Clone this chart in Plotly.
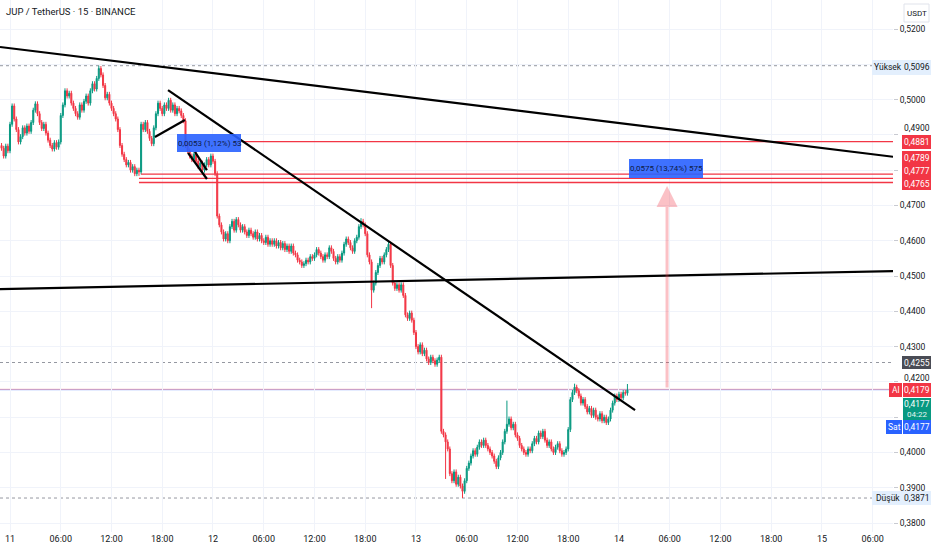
import plotly.graph_objects as go
import pandas as pd

# ---------------- data ----------------
title_text = "JUP / TetherUS · 15 · BINANCE"
start_time = "2025-06-10 23:00"
first_open = 0.4870

closes = [
    0.4862, 0.4840, 0.4868, 0.4855,   # 10 23h
    0.4930, 0.4982, 0.4945, 0.4915,   # 11 00h
    0.4880, 0.4895, 0.4920, 0.4905,
    0.4925, 0.4910, 0.4935, 0.4970,
    0.4988, 0.4960, 0.4935, 0.4918,
    0.4930, 0.4905, 0.4885, 0.4870,
    0.4860, 0.4878, 0.4865, 0.4880,
    0.4955, 0.4985, 0.5025, 0.5010,   # 06h
    0.5018, 0.4990, 0.4975, 0.4960,
    0.4950, 0.4985, 0.4970, 0.4995,
    0.5010, 0.4990, 0.5025, 0.5045,
    0.5030, 0.5060, 0.5088, 0.5070,
    0.5040, 0.5005, 0.5015, 0.4990,
    0.4975, 0.4960, 0.4945, 0.4915,   # 12h
    0.4870, 0.4845, 0.4830, 0.4815,
    0.4822, 0.4800, 0.4810, 0.4790,
    0.4800, 0.4795, 0.4930, 0.4915,
    0.4935, 0.4910, 0.4890, 0.4875,
    0.4920, 0.4960, 0.4990, 0.4975,
    0.4960, 0.4985, 0.4975, 0.4998,   # 18h
    0.4970, 0.4985, 0.4960, 0.4975,
    0.4968, 0.4955, 0.4940, 0.4870,
    0.4855, 0.4840, 0.4830, 0.4845,
    0.4825, 0.4810, 0.4820, 0.4800,
    0.4815, 0.4830, 0.4815, 0.4840,
    0.4825, 0.4790, 0.4670, 0.4645,   # 12 00h
    0.4625, 0.4605, 0.4620, 0.4600,
    0.4640, 0.4655, 0.4630, 0.4660,
    0.4645, 0.4630, 0.4640, 0.4625,
    0.4615, 0.4630, 0.4620, 0.4610,
    0.4625, 0.4605, 0.4615, 0.4600,
    0.4595, 0.4610, 0.4590, 0.4600,   # 06h
    0.4590, 0.4600, 0.4585, 0.4595,
    0.4580, 0.4592, 0.4575, 0.4585,
    0.4570, 0.4585, 0.4565, 0.4560,
    0.4545, 0.4540, 0.4530, 0.4535,
    0.4545, 0.4540, 0.4555, 0.4550,
    0.4560, 0.4575, 0.4565, 0.4555,   # 12h
    0.4545, 0.4560, 0.4555, 0.4580,
    0.4570, 0.4550, 0.4540, 0.4555,
    0.4545, 0.4565, 0.4590, 0.4605,
    0.4595, 0.4580, 0.4570, 0.4600,
    0.4610, 0.4640, 0.4655, 0.4645,
    0.4620, 0.4560, 0.4540, 0.4460,   # 18h
    0.4480, 0.4510, 0.4530, 0.4550,
    0.4540, 0.4560, 0.4575, 0.4590,
    0.4530, 0.4480, 0.4465, 0.4475,
    0.4460, 0.4475, 0.4445, 0.4390,
    0.4380, 0.4395, 0.4375, 0.4340,
    0.4300, 0.4285, 0.4305, 0.4280,   # 13 00h
    0.4290, 0.4265, 0.4255, 0.4270,
    0.4260, 0.4250, 0.4262, 0.4270,
    0.4060, 0.4050, 0.4030, 0.4010,
    0.3940, 0.3920, 0.3945, 0.3910,
    0.3930, 0.3905, 0.3890, 0.3920,
    0.3955, 0.3970, 0.3990, 0.4005,   # 06h
    0.3995, 0.4015, 0.4030, 0.4020,
    0.4035, 0.4020, 0.4010, 0.4000,
    0.3990, 0.3975, 0.3960, 0.3985,
    0.4000, 0.4030, 0.4060, 0.4080,
    0.4095, 0.4070, 0.4080, 0.4050,
    0.4040, 0.4020, 0.4010, 0.4000,   # 12h
    0.3995, 0.4010, 0.4005, 0.4025,
    0.4040, 0.4030, 0.4055, 0.4045,
    0.4060, 0.4035, 0.4020, 0.4030,
    0.4010, 0.4000, 0.4015, 0.4025,
    0.4005, 0.3995, 0.4000, 0.4010,
    0.4065, 0.4150, 0.4170, 0.4185,   # 18h
    0.4175, 0.4160, 0.4140, 0.4150,
    0.4130, 0.4115, 0.4125, 0.4105,
    0.4120, 0.4100, 0.4095, 0.4110,
    0.4090, 0.4100, 0.4085, 0.4095,
    0.4120, 0.4140, 0.4160, 0.4150,
    0.4165, 0.4155, 0.4170, 0.4168,   # 14 00h
    0.4177,
]

high_overrides = {
    "2025-06-11 10:30": 0.5096,
    "2025-06-12 17:30": 0.4664,
    "2025-06-13 10:45": 0.4147,
    "2025-06-13 18:45": 0.4195,
    "2025-06-14 01:00": 0.4194,
}
low_overrides = {
    "2025-06-11 15:15": 0.4784,
    "2025-06-12 18:45": 0.4409,
    "2025-06-13 03:30": 0.3925,
    "2025-06-13 05:30": 0.3871,
}

x_tick_times = pd.date_range("2025-06-11 00:00", periods=18, freq="6h")
x_tick_labels = ["11", "06:00", "12:00", "18:00", "12", "06:00", "12:00", "18:00",
                 "13", "06:00", "12:00", "18:00", "14", "06:00", "12:00", "18:00",
                 "15", "06:00"]

y_tick_prices = [0.38, 0.39, 0.40, 0.41, 0.42, 0.43, 0.44, 0.45, 0.46, 0.47,
                 0.48, 0.49, 0.50, 0.51, 0.52]
y_tick_labels = ["0,3800", "0,3900", "0,4000", "", "", "0,4300", "0,4400",
                 "0,4500", "0,4600", "0,4700", "", "", "0,5000", "", "0,5200"]
# tick labels partly hidden behind the price boxes
half_hidden_ticks = ["0,4900", "0,4200"]

red_levels = [0.4881, 0.4789, 0.4777, 0.4765]
red_level_starts = ["2025-06-12 03:30", "2025-06-11 15:30", "2025-06-11 15:15", "2025-06-11 15:15"]
high_price = 0.5096
low_price = 0.3871
ref_price = 0.4255
ask_price = 0.4179
bid_price = 0.4177
last_price = 0.4177
countdown = "04:22"

# trend lines: (time0, price0, time1, price1)
trend_lines = [
    ("2025-06-10 22:49", 0.5149, "2025-06-15 08:24", 0.4838),
    ("2025-06-10 22:49", 0.4463, "2025-06-15 08:24", 0.4514),
    ("2025-06-11 18:41", 0.5027, "2025-06-14 01:54", 0.4120),
    ("2025-06-11 17:08", 0.4894, "2025-06-11 20:41", 0.4942),
    ("2025-06-11 21:03", 0.4849, "2025-06-11 23:17", 0.4775),
    ("2025-06-11 21:52", 0.4852, "2025-06-11 23:17", 0.4800),
]

range_label_1 = "0,0053 (1,12%) 53"
range_label_2 = "0,0575 (13,74%) 575"
arrow_time = "2025-06-14 05:41"
arrow_from = 0.4180
arrow_to = 0.4755

# ---------------- build ----------------
times = pd.date_range(start_time, periods=len(closes), freq="15min")
opens = [first_open] + closes[:-1]
wick = 0.0007
highs, lows = [], []
for t, o, c in zip(times, opens, closes):
    key = t.strftime("%Y-%m-%d %H:%M")
    highs.append(high_overrides.get(key, max(o, c) + wick))
    lows.append(low_overrides.get(key, min(o, c) - wick))

UP = "#089981"
DOWN = "#F23645"
TXT = "#131722"
GRID = "#f0f3fa"

x0 = pd.Timestamp("2025-06-10 22:49:05")
x1 = x0 + pd.Timedelta(hours=105.58)
Y0, Y1 = 0.37747, 0.52822
W, H = 893, 532


def px(x):
    return x / W


def py(y):
    return 1 - y / H


fig = go.Figure()
fig.add_trace(go.Candlestick(
    x=times, open=opens, high=highs, low=lows, close=closes,
    increasing=dict(line=dict(color=UP, width=1), fillcolor=UP),
    decreasing=dict(line=dict(color=DOWN, width=1), fillcolor=DOWN),
    whiskerwidth=0, showlegend=False, hoverinfo="skip",
))

shapes = []
for p in [high_price, low_price, ref_price]:
    shapes.append(dict(type="line", xref="paper", x0=0, x1=1, yref="y", y0=p, y1=p,
                       line=dict(color="#9598a1", width=1, dash="dot"), layer="below"))
shapes.append(dict(type="line", xref="paper", x0=0, x1=1, yref="y", y0=ask_price, y1=ask_price,
                   line=dict(color="rgba(242,54,69,0.45)", width=1), layer="below"))
shapes.append(dict(type="line", xref="paper", x0=0, x1=1, yref="y", y0=bid_price + 0.00005, y1=bid_price + 0.00005,
                   line=dict(color="rgba(41,98,255,0.35)", width=1), layer="below"))
for p, s in zip(red_levels, red_level_starts):
    shapes.append(dict(type="line", xref="x", x0=s, x1=x1, yref="y", y0=p, y1=p,
                       line=dict(color="#F23645", width=1.3)))
for ta, pa, tb, pb in trend_lines:
    shapes.append(dict(type="line", xref="x", x0=ta, x1=tb, yref="y", y0=pa, y1=pb,
                       line=dict(color="#000000", width=2.2)))

shapes.append(dict(type="rect", xref="paper", yref="paper", x0=px(177), x1=px(241),
                   y0=py(152), y1=py(134), fillcolor="rgba(41,98,255,0.9)",
                   line=dict(width=0)))
shapes.append(dict(type="rect", xref="paper", yref="paper", x0=px(629), x1=px(703),
                   y0=py(178), y1=py(159), fillcolor="rgba(41,98,255,0.9)",
                   line=dict(width=0)))

annotations = []
annotations.append(dict(xref="paper", yref="paper", x=px(209), y=py(143), text=range_label_1,
                        showarrow=False, font=dict(size=8, color="#0d1a45"),
                        xanchor="center", yanchor="middle"))
annotations.append(dict(xref="paper", yref="paper", x=px(666), y=py(168.5), text=range_label_2,
                        showarrow=False, font=dict(size=8, color="#0d1a45"),
                        xanchor="center", yanchor="middle"))
annotations.append(dict(xref="x", yref="y", x=arrow_time, y=arrow_to, axref="x", ayref="y",
                        ax=arrow_time, ay=arrow_from, showarrow=True, arrowhead=2,
                        arrowsize=1.4, arrowwidth=3, arrowcolor="rgba(242,54,69,0.3)", text=""))
annotations.append(dict(xref="paper", yref="paper", x=px(4), y=py(12), text=title_text,
                        showarrow=False, font=dict(size=9.5, color=TXT),
                        xanchor="left", yanchor="middle"))
for t, yy in zip(half_hidden_ticks, [128.5, 377.5]):
    annotations.append(dict(xref="paper", yref="paper", x=px(902), y=py(yy), text=t,
                            showarrow=False, font=dict(size=8.5, color=TXT),
                            xanchor="left", yanchor="middle"))


def axis_box(xa, xb, ya, yb, color, text, tcolor="#ffffff", border=None, size=8.5):
    shapes.append(dict(type="rect", xref="paper", yref="paper", x0=px(xa), x1=px(xb),
                       y0=py(yb), y1=py(ya), fillcolor=color,
                       line=dict(width=1 if border else 0, color=border or color), layer="above"))
    if text:
        annotations.append(dict(xref="paper", yref="paper", x=px((xa + xb) / 2), y=py((ya + yb) / 2),
                                text=text, showarrow=False, font=dict(size=size, color=tcolor),
                                xanchor="center", yanchor="middle"))


axis_box(904, 929, 4, 22, "#ffffff", "USDT", TXT, border="#e0e3eb", size=8)
axis_box(872, 903, 60, 75, "#e3effd", "Yüksek", TXT)
axis_box(903, 931, 60, 75, "#e3effd", "0,5096", TXT)
axis_box(902, 931, 135, 149, "#F23645", "0,4881")
axis_box(902, 931, 151, 190, "#F23645", "")
for yy, t in zip([157.5, 170.5, 183.5], ["0,4789", "0,4777", "0,4765"]):
    annotations.append(dict(xref="paper", yref="paper", x=px(916.5), y=py(yy), text=t,
                            showarrow=False, font=dict(size=8.5, color="#ffffff"),
                            xanchor="center", yanchor="middle"))
axis_box(902, 931, 356, 369, "#4a4c55", "0,4255")
axis_box(889, 902, 383, 397, "#F23645", "Al")
axis_box(903, 931, 383, 397, "#F23645", "0,4179")
axis_box(903, 931, 398, 420, "#089981", "")
annotations.append(dict(xref="paper", yref="paper", x=px(917), y=py(404), text="0,4177",
                        showarrow=False, font=dict(size=8.5, color="#ffffff"),
                        xanchor="center", yanchor="middle"))
annotations.append(dict(xref="paper", yref="paper", x=px(917), y=py(414), text=countdown,
                        showarrow=False, font=dict(size=8, color="#e6f5f2"),
                        xanchor="center", yanchor="middle"))
axis_box(886, 902, 420, 434, "#2962FF", "Sat")
axis_box(903, 931, 420, 434, "#2962FF", "0,4177")
axis_box(872, 903, 491, 505, "#e3effd", "Düşük", TXT)
axis_box(903, 931, 491, 505, "#e3effd", "0,3871", TXT)

fig.update_layout(
    width=932, height=550,
    margin=dict(l=0, r=39, t=0, b=18),
    paper_bgcolor="#ffffff", plot_bgcolor="#ffffff",
    font=dict(family="Roboto, Liberation Sans, sans-serif", color=TXT),
    shapes=shapes, annotations=annotations,
    showlegend=False,
    xaxis=dict(range=[x0, x1], tickvals=list(x_tick_times), ticktext=x_tick_labels,
               showgrid=True, gridcolor=GRID, gridwidth=1, zeroline=False,
               rangeslider=dict(visible=False), ticks="", tickfont=dict(size=9, color=TXT),
               showline=False, fixedrange=True),
    yaxis=dict(range=[Y0, Y1], side="right", tickvals=y_tick_prices, ticktext=y_tick_labels,
               showgrid=True, gridcolor=GRID, gridwidth=1, zeroline=False,
               ticks="outside", ticklen=4, tickcolor="#c8cad1",
               tickfont=dict(size=8.5, color=TXT), showline=False, fixedrange=True),
)

fig.write_html("out.html", config={"displayModeBar": False},
               post_script="document.body.style.margin='0';document.body.style.overflow='hidden';")
